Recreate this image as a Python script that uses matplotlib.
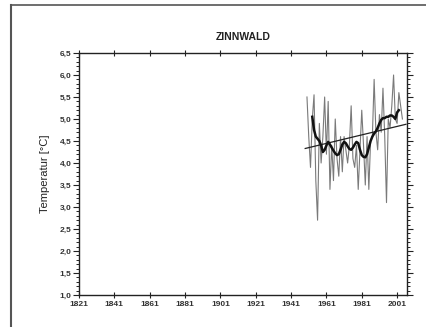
import matplotlib
matplotlib.use("Agg")
import matplotlib.pyplot as plt
from matplotlib.lines import Line2D
from matplotlib.ticker import MultipleLocator, FuncFormatter

plt.rcParams['font.family'] = ['Liberation Sans', 'DejaVu Sans']

# yearly mean temperature (grey)
years = list(range(1950, 2005))
temps = [5.5, 4.6, 3.9, 5.0, 5.55, 3.6, 2.7, 4.9, 4.0, 4.6,
         5.5, 4.2, 5.4, 3.4, 4.4, 3.6, 5.0, 4.1, 3.7, 4.6,
         3.8, 4.6, 4.3, 4.0, 4.4, 5.3, 4.1, 3.9, 4.4, 3.4,
         4.3, 5.2, 4.4, 3.5, 4.6, 3.4, 4.5, 4.6, 5.9, 4.7,
         4.3, 5.1, 4.7, 5.7, 4.6, 3.1, 5.0, 4.8, 5.3, 6.0,
         5.0, 4.9, 5.6, 5.3, 5.0]

# smoothed curve (black, thick)
smooth_years = list(range(1953, 2003))
smooth_vals = [5.05, 4.75, 4.6, 4.55, 4.5, 4.4, 4.25, 4.3, 4.4, 4.48,
               4.42, 4.35, 4.28, 4.22, 4.18, 4.2, 4.3, 4.42, 4.48, 4.45,
               4.38, 4.32, 4.3, 4.35, 4.42, 4.48, 4.45, 4.3, 4.18, 4.14,
               4.13, 4.2, 4.35, 4.5, 4.6, 4.67, 4.72, 4.8, 4.9, 4.98,
               5.02, 5.02, 5.05, 5.05, 5.08, 5.08, 5.05, 5.0, 5.15, 5.2]

# linear trend endpoints
trend_years = [1949, 2006]
trend_vals = [4.33, 4.88]

xticks = list(range(1821, 2002, 20))
yticks = [1.0, 1.5, 2.0, 2.5, 3.0, 3.5, 4.0, 4.5, 5.0, 5.5, 6.0, 6.5]

fig = plt.figure(figsize=(4.27, 3.27), dpi=100)
ax = fig.add_axes([79/427, 1-295/327, (407-79)/427, (295-53)/327])

ax.plot(years, temps, color='#7a7a7a', lw=0.8)
ax.plot(trend_years, trend_vals, color='#222222', lw=0.9)
ax.plot(smooth_years, smooth_vals, color='#111111', lw=1.8)

ax.set_xlim(1821, 2006.6)
ax.set_ylim(1.0, 6.5)
ax.set_xticks(xticks)
ax.set_yticks(yticks)
ax.yaxis.set_minor_locator(MultipleLocator(0.1))
ax.yaxis.set_major_formatter(FuncFormatter(lambda v, p: f"{v:.1f}".replace('.', ',')))

ax.tick_params(axis='x', which='major', direction='inout', length=5, width=0.8,
               top=True, labelsize=6, pad=2, colors='#222222')
ax.tick_params(axis='y', which='major', direction='out', length=4, width=0.8,
               left=True, right=True, labelsize=6, pad=1.5, colors='#222222')
ax.tick_params(axis='y', which='minor', direction='out', length=2.2, width=0.6,
               left=True, right=True)
for lab in ax.get_xticklabels() + ax.get_yticklabels():
    lab.set_fontweight('bold')
    lab.set_color('#333333')

for s in ax.spines.values():
    s.set_linewidth(1.0)
    s.set_color('#222222')

ax.set_title('ZINNWALD', fontsize=7.5, fontweight='bold', color='#222222', pad=9)
ax.set_ylabel('Temperatur [°C]', fontsize=8, color='#222222', labelpad=7)

# outer frame lines (left and top)
fig.add_artist(Line2D([11/427, 11/427], [0, 1-5/327], transform=fig.transFigure,
                      color='#555555', lw=1.5))
fig.add_artist(Line2D([11/427, 1], [1-5/327, 1-5/327], transform=fig.transFigure,
                      color='#555555', lw=1.2))

fig.savefig('out.png', dpi=100, facecolor='white')
